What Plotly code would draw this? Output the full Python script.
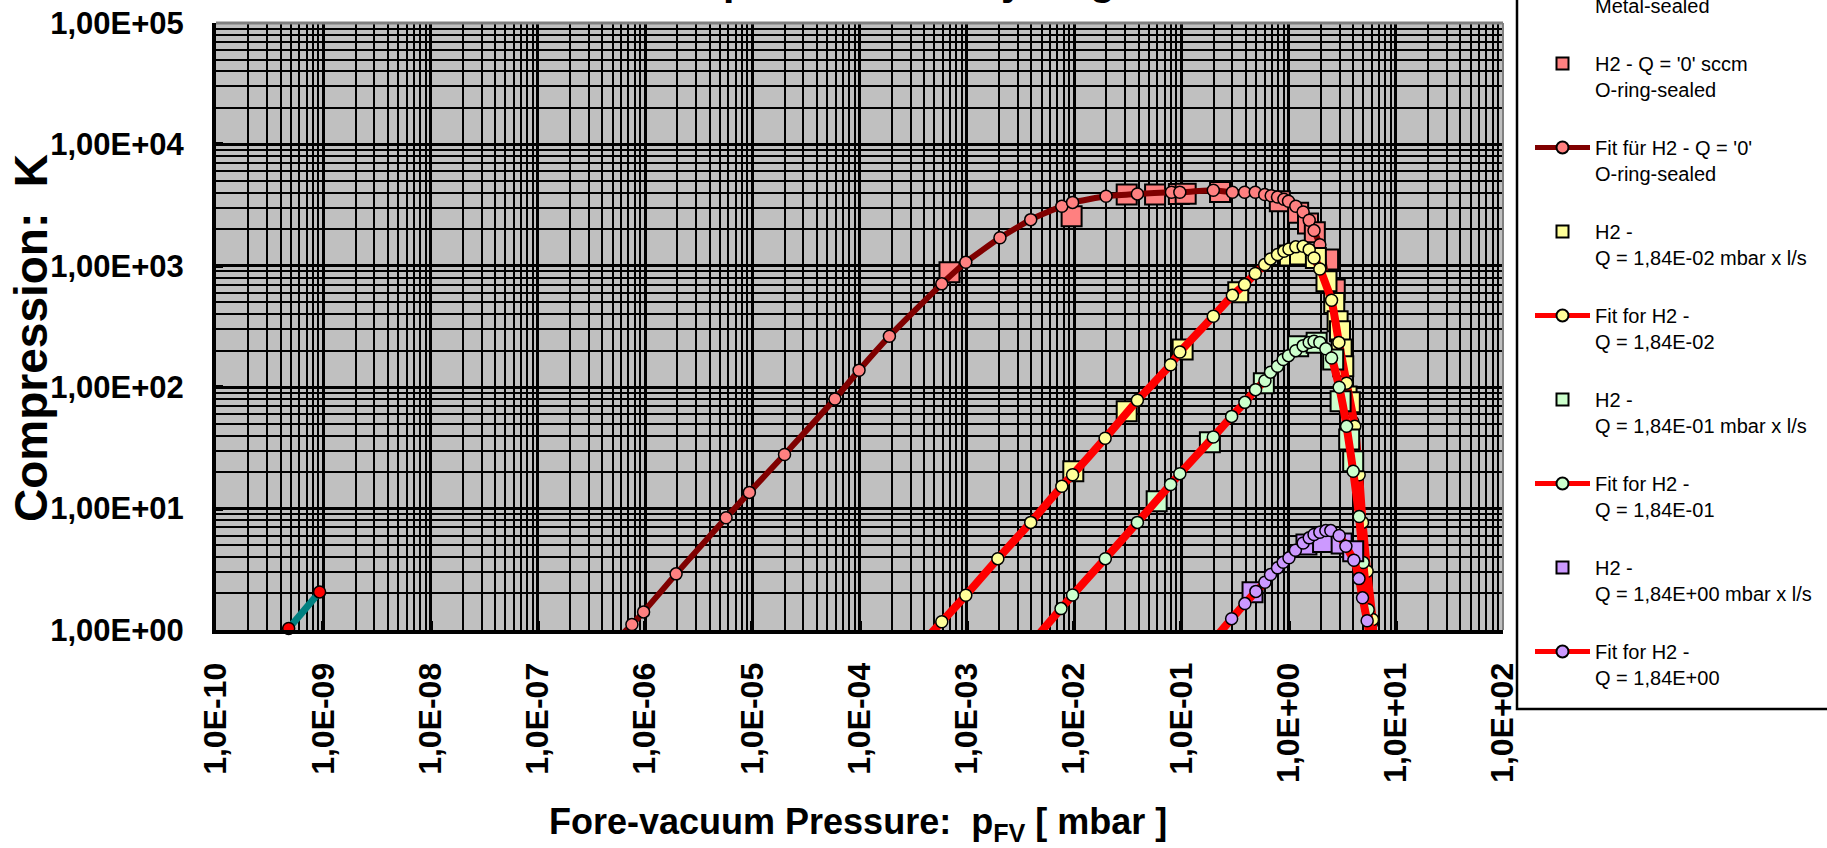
import plotly.graph_objects as go

# ---------------- data ----------------
x_tick_vals = [1e-10, 1e-9, 1e-8, 1e-7, 1e-6, 1e-5, 1e-4, 1e-3, 1e-2, 1e-1, 1e0, 1e1, 1e2]
x_tick_text = ["1,0E-10", "1,0E-09", "1,0E-08", "1,0E-07", "1,0E-06", "1,0E-05", "1,0E-04",
               "1,0E-03", "1,0E-02", "1,0E-01", "1,0E+00", "1,0E+01", "1,0E+02"]
y_tick_vals = [1, 10, 100, 1000, 10000, 100000]
y_tick_text = ["1,00E+00", "1,00E+01", "1,00E+02", "1,00E+03", "1,00E+04", "1,00E+05"]

metal_fit_x = [4.76e-10, 9.25e-10]
metal_fit_y = [1.03, 2.06]

oring_data_x = [6.9e-4, 9.5e-3, 3.1e-2, 5.7e-2, 0.095, 0.11, 0.23, 0.83, 1.23, 1.52, 1.76, 2.34, 2.7]
oring_data_y = [885, 2560, 3860, 3860, 3900, 3920, 4060, 3400, 2730, 2230, 1890, 1125, 637]

oring_fit_x = [5.66e-7, 7.55e-7, 9.7e-7, 1.95e-6, 5.7e-6, 9.4e-6, 2.0e-5, 5.9e-5, 9.9e-5, 1.9e-4,
               5.85e-4, 9.8e-4, 2.04e-3, 3.95e-3, 7.7e-3, 9.7e-3, 1.99e-2, 3.9e-2, 8.1e-2, 9.7e-2,
               0.199, 0.30, 0.39, 0.49, 0.60, 0.69, 0.79, 0.906, 1.0, 1.17, 1.37, 1.56, 1.73, 1.96,
               3.98, 5.94, 6.17]
oring_fit_y = [0.86, 1.11, 1.41, 2.9, 8.4, 13.6, 27.9, 80, 138, 263,
               710, 1070, 1700, 2400, 3090, 3330, 3740, 3910, 4030, 4030,
               4190, 4030, 4030, 4030, 3860, 3780, 3690, 3530, 3400, 3090, 2770, 2370, 1950, 1490,
               52, 1.13, 0.83]

q1_data_x = [9.85e-3, 3.1e-2, 0.103, 0.34, 1.03, 1.28, 1.80, 2.26, 2.67, 2.87, 3.02, 3.13, 3.24, 3.48, 3.73]
q1_data_y = [20.3, 63.4, 204, 605, 1213, 1240, 1160, 745, 494, 349, 289, 204, 149, 84, 75]

q1_fit_x = [4.24e-4, 5.85e-4, 9.8e-4, 1.95e-3, 3.95e-3, 7.7e-3, 9.7e-3, 1.95e-2, 3.9e-2, 7.96e-2,
            9.7e-2, 0.199, 0.30, 0.39, 0.49, 0.60, 0.68, 0.79, 0.906, 1.01, 1.17, 1.37, 1.56,
            1.73, 1.96, 2.52, 2.95, 3.48, 4.15, 4.56, 4.9, 5.41, 6.08, 6.2]
q1_fit_y = [0.86, 1.17, 1.93, 3.87, 7.7, 15.3, 19, 38, 78, 153,
            195, 384, 571, 700, 863, 1023, 1140, 1237, 1318, 1377, 1432, 1449, 1359,
            1160, 942, 520, 234, 108, 47.6, 19, 7.7, 3.05, 1.22, 0.83]

q2_data_x = [0.059, 0.185, 0.589, 1.23, 1.83, 2.61, 3.06, 3.68, 4.01]
q2_data_y = [11.5, 35.2, 108, 217, 232, 169, 76.5, 37, 24.5]

q2_fit_x = [4.35e-3, 7.57e-3, 9.7e-3, 1.96e-2, 3.9e-2, 7.96e-2, 9.7e-2, 0.199, 0.295, 0.392,
            0.493, 0.603, 0.68, 0.79, 0.893, 1.0, 1.17, 1.37, 1.56, 1.73, 1.96, 2.23, 2.52,
            2.97, 3.48, 4.01, 4.56, 4.97, 5.53, 5.9]
q2_fit_y = [0.85, 1.5, 1.94, 3.87, 7.7, 15.8, 19.4, 38.9, 57.5, 75,
            95.5, 113, 133, 149, 169, 182, 200, 220, 234, 239, 234, 207, 174,
            100, 47.6, 20.3, 8.6, 3.6, 1.47, 0.83]

q3_data_x = [0.462, 1.47, 2.1, 3.13, 4.01]
q3_data_y = [2.05, 5.05, 5.3, 5.15, 4.45]

q3_fit_x = [0.205, 0.295, 0.392, 0.497, 0.603, 0.68, 0.79, 0.893, 1.01, 1.16, 1.37, 1.56, 1.73,
            1.96, 2.23, 2.48, 2.97, 3.43, 4.07, 4.54, 4.9, 5.41, 5.75]
q3_fit_y = [0.85, 1.24, 1.65, 2.08, 2.47, 2.86, 3.25, 3.61, 3.93, 4.54, 5.21, 5.74, 6.11,
            6.38, 6.59, 6.59, 6.0, 4.89, 3.75, 2.65, 1.84, 1.19, 0.85]

minor_digits = [2, 3, 4, 5, 6, 7, 8, 9]

# ---------------- styles ----------------
FONT = "Liberation Sans, Arial, sans-serif"
PINK, DARKRED, RED = "#FF8080", "#800000", "#FF0000"
YELLOW, GREEN, LAV, TEAL = "#FFFF99", "#CCFFCC", "#CC99FF", "#008080"


def data_trace(x, y, color, name, group):
    return go.Scatter(x=x, y=y, mode="markers", name=name, legendgroup=group,
                      marker=dict(symbol="square", size=20, color=color,
                                  line=dict(color="black", width=2)))


def fit_trace(x, y, lcolor, mcolor, name, group, lw=8, clip=True):
    return go.Scatter(x=x, y=y, mode="lines+markers", name=name, legendgroup=group,
                      line=dict(color=lcolor, width=lw, shape="spline", smoothing=0.4),
                      marker=dict(symbol="circle", size=12, color=mcolor,
                                  line=dict(color="black", width=1.5)),
                      cliponaxis=clip)


fig = go.Figure()
fig.add_trace(fit_trace(metal_fit_x, metal_fit_y, TEAL, RED,
                        "Fit für H2 - Q = '0'<br>Metal-sealed", "g0", lw=7, clip=False))
fig.add_trace(data_trace(oring_data_x, oring_data_y, PINK, "H2 - Q = '0' sccm<br>O-ring-sealed", "g1"))
fig.add_trace(fit_trace(oring_fit_x, oring_fit_y, DARKRED, PINK,
                        "Fit für H2 - Q = '0'<br>O-ring-sealed", "g2", lw=6))
fig.add_trace(data_trace(q1_data_x, q1_data_y, YELLOW, "H2 -<br>Q = 1,84E-02 mbar x l/s", "g3"))
fig.add_trace(fit_trace(q1_fit_x, q1_fit_y, RED, YELLOW, "Fit for H2 -<br>Q = 1,84E-02", "g4"))
fig.add_trace(data_trace(q2_data_x, q2_data_y, GREEN, "H2 -<br>Q = 1,84E-01 mbar x l/s", "g5"))
fig.add_trace(fit_trace(q2_fit_x, q2_fit_y, RED, GREEN, "Fit for H2 -<br>Q = 1,84E-01", "g6"))
fig.add_trace(data_trace(q3_data_x, q3_data_y, LAV, "H2 -<br>Q = 1,84E+00 mbar x l/s", "g7"))
fig.add_trace(fit_trace(q3_fit_x, q3_fit_y, RED, LAV, "Fit for H2 -<br>Q = 1,84E+00", "g8"))

x_minor = [d * 10.0 ** e for e in range(-10, 2) for d in minor_digits]
y_minor = [d * 10.0 ** e for e in range(0, 5) for d in minor_digits]

L, R, T, B = 216, 324, 23, 218
W, H = 1827, 848
pw, ph = W - L - R, H - T - B


def px_x(p):
    return (p - L) / pw


def px_y(p):
    return (H - B - p) / ph


fig.update_layout(
    width=W, height=H,
    margin=dict(l=L, r=R, t=T, b=B, autoexpand=False),
    paper_bgcolor="white", plot_bgcolor="#C0C0C0",
    font=dict(family=FONT, color="black"),
    showlegend=True,
    legend=dict(
        x=px_x(1530), xanchor="left", y=px_y(697), yanchor="bottom",
        bgcolor="rgba(0,0,0,0)", borderwidth=0,
        font=dict(family=FONT, size=20, color="black"),
        traceorder="grouped", tracegroupgap=29, valign="top",
        itemsizing="constant", itemwidth=55,
    ),
    xaxis=dict(
        type="log", range=[-10, 2],
        tickmode="array", tickvals=x_tick_vals, ticktext=x_tick_text,
        tickangle=-90, tickfont=dict(family=FONT, size=32, weight="bold"),
        ticks="inside", ticklen=9, tickwidth=4, tickcolor="black",
        ticklabelstandoff=16,
        showgrid=True, gridcolor="black", gridwidth=3,
        minor=dict(tickmode="array", tickvals=x_minor, showgrid=True,
                   gridcolor="black", gridwidth=2, ticks=""),
        showline=True, linecolor="black", linewidth=4,
        zeroline=False, fixedrange=True,
    ),
    yaxis=dict(
        type="log", range=[0, 5],
        tickmode="array", tickvals=y_tick_vals, ticktext=y_tick_text,
        tickfont=dict(family=FONT, size=31, weight="bold"),
        ticks="inside", ticklen=7, tickwidth=4, tickcolor="black",
        ticklabelstandoff=22,
        showgrid=True, gridcolor="black", gridwidth=3,
        minor=dict(tickmode="array", tickvals=y_minor, showgrid=True,
                   gridcolor="black", gridwidth=2, ticks=""),
        showline=True, linecolor="black", linewidth=4,
        zeroline=False, fixedrange=True,
    ),
    shapes=[
        dict(type="line", xref="paper", yref="paper", x0=0, x1=1, y0=1, y1=1,
             line=dict(color="#808080", width=3), layer="above"),
        dict(type="line", xref="paper", yref="paper", x0=1, x1=1, y0=0, y1=1,
             line=dict(color="#808080", width=2), layer="above"),
        # legend frame
        dict(type="rect", xref="paper", yref="paper",
             x0=px_x(1517), x1=px_x(1860), y0=px_y(709), y1=px_y(-60),
             fillcolor="white", line=dict(color="black", width=2.5), layer="above"),
    ],
    annotations=[
        dict(text="<b>Compression for Hydrogen</b>", xref="paper", yref="paper",
             x=px_x(630), y=px_y(6), xanchor="left", yanchor="bottom",
             showarrow=False, font=dict(family=FONT, size=41, color="black")),
        dict(text="<b>Fore-vacuum Pressure:\u00a0\u00a0p<sub>FV</sub> [ mbar ]</b>",
             xref="paper", yref="paper", x=px_x(858), y=px_y(824),
             xanchor="center", yanchor="middle", showarrow=False,
             font=dict(family=FONT, size=36, color="black")),
        dict(text="<b>Compression:\u00a0\u00a0K</b>", xref="paper", yref="paper",
             x=px_x(31), y=px_y(338), xanchor="center", yanchor="middle",
             textangle=-90, showarrow=False,
             font=dict(family=FONT, size=46, color="black")),
    ],
)

try:
    fig.update_layout(legend_maxheight=3000)
except Exception:
    pass

fig.write_html("out.html")
